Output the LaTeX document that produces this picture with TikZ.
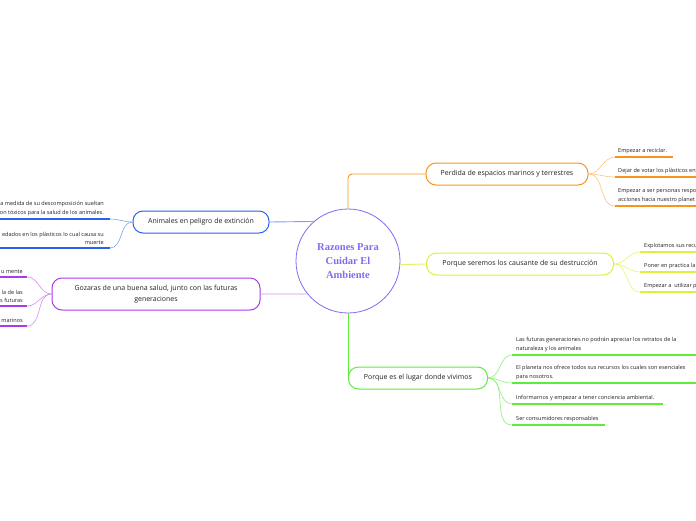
\documentclass[tikz,border=0pt]{standalone}
\usepackage{fontspec}
\setmainfont{Open Sans}
\newfontfamily\centerfont{Liberation Serif}
\definecolor{cen}{HTML}{7F6EF2}
\definecolor{orc}{HTML}{F7941D}
\definecolor{ylc}{HTML}{DDF03C}
\definecolor{grc}{HTML}{5EEB3B}
\definecolor{blc}{HTML}{2A62F0}
\definecolor{puc}{HTML}{A93BEA}
\definecolor{txt}{HTML}{222222}
\tikzset{
  topic/.style={draw, rounded corners=10pt, fill=white, line width=1pt, minimum height=22pt, inner sep=0pt, text=txt, font=\fontsize{7}{11}\selectfont, align=center},
  leaf/.style={inner sep=0pt, text=txt, font=\fontsize{5.55}{8.5}\selectfont},
  uline/.style={line width=1.8pt},
  twig/.style={line width=0.6pt},
  trunk/.style={line width=0.9pt},
}
\begin{document}
\begin{tikzpicture}[x=1pt,y=-1pt]
\useasboundingbox (0,0) rectangle (696,520);
\clip (0,0) rectangle (696,520);
\fill[white] (0,0) rectangle (696,520);

% center
\node[circle, draw=cen, line width=0.8pt, minimum size=104pt, inner sep=0pt, text=cen, align=center, font=\centerfont\bfseries\fontsize{10.5}{14}\selectfont] (c) at (348,261) {Razones Para\\Cuidar El\\Ambiente};

% topics
\node[topic, draw=orc, minimum width=162pt] (o) at (507,174) {Perdida de espacios marinos y terrestres};
\node[topic, draw=ylc, minimum width=187pt] (y) at (520,264) {Porque seremos los causante de su destrucción};
\node[topic, draw=grc, minimum width=139pt] (g) at (418,378) {Porque es el lugar donde vivimos};
\node[topic, draw=blc, minimum width=136pt] (b) at (201,222) {Animales en peligro de extinción};
\node[topic, draw=puc, minimum width=208pt, minimum height=32pt] (p) at (156,294) {Gozaras de una buena salud, junto con las futuras\\generaciones};

% trunks
\draw[trunk, orc, rounded corners=4pt] (c.north) |- (o.west);
\draw[trunk, ylc!80] (c.356.7) -- (y.west);
\draw[trunk, grc] (c.south) -- (g.west);
\draw[trunk, blc!60] (c.131.4) -- (b.east);
\draw[trunk, puc!55] (c.219.4) -- (p.east);

% orange leaves
\coordinate (o1s) at (615,157); \coordinate (o1e) at (673,157);
\coordinate (o2s) at (615,177); \coordinate (o2e) at (700,177);
\coordinate (o3s) at (615,206); \coordinate (o3e) at (700,206);
\foreach \k in {1,2,3}{
  \draw[twig, orc!55] (o.east) to[out=0,in=180] (o\k s);
  \draw[uline, orc] (o\k s) -- (o\k e);
}
\node[leaf, anchor=south west] (o1) at (618,154) {Empezar a reciclar.};
\node[leaf, anchor=south west] (o2) at (618,174) {Dejar de votar los plásticos en};
\node[leaf, anchor=south west, align=left] (o3) at (618,203) {Empezar a ser personas respo\\acciones hacia nuestro planet};

% yellow leaves
\coordinate (y1s) at (640,252); \coordinate (y1e) at (700,252);
\coordinate (y2s) at (640,272); \coordinate (y2e) at (700,272);
\coordinate (y3s) at (640,292); \coordinate (y3e) at (700,292);
\foreach \k in {1,2,3}{
  \draw[twig, ylc!70] (y.east) to[out=0,in=180] (y\k s);
  \draw[uline, ylc] (y\k s) -- (y\k e);
}
\node[leaf, anchor=south west] (y1) at (644,249) {Explotamos sus recu};
\node[leaf, anchor=south west] (y2) at (644,269) {Poner en practica la};
\node[leaf, anchor=south west] (y3) at (644,289) {Empezar a\ \ utilizar p};

% green leaves
\coordinate (g1s) at (512,355); \coordinate (g1e) at (700,355);
\coordinate (g2s) at (512,383); \coordinate (g2e) at (700,383);
\coordinate (g3s) at (512,404); \coordinate (g3e) at (663,404);
\coordinate (g4s) at (512,425); \coordinate (g4e) at (605,425);
\foreach \k in {1,2,3,4}{
  \draw[twig, grc!70] (g.east) to[out=0,in=180] (g\k s);
  \draw[uline, grc] (g\k s) -- (g\k e);
}
\node[leaf, anchor=south west, align=left] (g1) at (516,352) {Las futuras generaciones no podrán apreciar los retratos de la\\naturaleza y los animales};
\node[leaf, anchor=south west, align=left] (g2) at (516,380) {El planeta nos ofrece todos sus recursos los cuales son esenciales\\para nosotros.};
\node[leaf, anchor=south west] (g3) at (516,401) {Informarnos y empezar a tener conciencia ambiental.};
\node[leaf, anchor=south west] (g4) at (516,422) {Ser consumidores responsables};

% blue leaves
\coordinate (b1s) at (110,219); \coordinate (b1e) at (-5,219);
\coordinate (b2s) at (110,248); \coordinate (b2e) at (-5,248);
\foreach \k in {1,2}{
  \draw[twig, blc!60] (b.west) to[out=180,in=0] (b\k s);
  \draw[uline, blc] (b\k s) -- (b\k e);
}
\node[leaf, anchor=south east, align=right] (b1) at (104,216) {a medida de su descomposición sueltan\\on tóxicos para la salud de los animales.};
\node[leaf, anchor=south east, align=right] (b2) at (104,245) {edados en los plásticos lo cual causa su\\muerte};

% purple leaves
\coordinate (p1s) at (27,277); \coordinate (p1e) at (-5,277);
\coordinate (p2s) at (27,306); \coordinate (p2e) at (-5,306);
\coordinate (p3s) at (27,326); \coordinate (p3e) at (-5,326);
\foreach \k in {1,2,3}{
  \draw[twig, puc!55] (p.west) to[out=180,in=0] (p\k s);
  \draw[uline, puc] (p\k s) -- (p\k e);
}
\node[leaf, anchor=south east] (p1) at (23,274) {u mente};
\node[leaf, anchor=south east, align=right] (p2) at (23,303) {la de las\\s futuras};
\node[leaf, anchor=south east] (p3) at (23,323) {marinos};
\end{tikzpicture}
\end{document}
